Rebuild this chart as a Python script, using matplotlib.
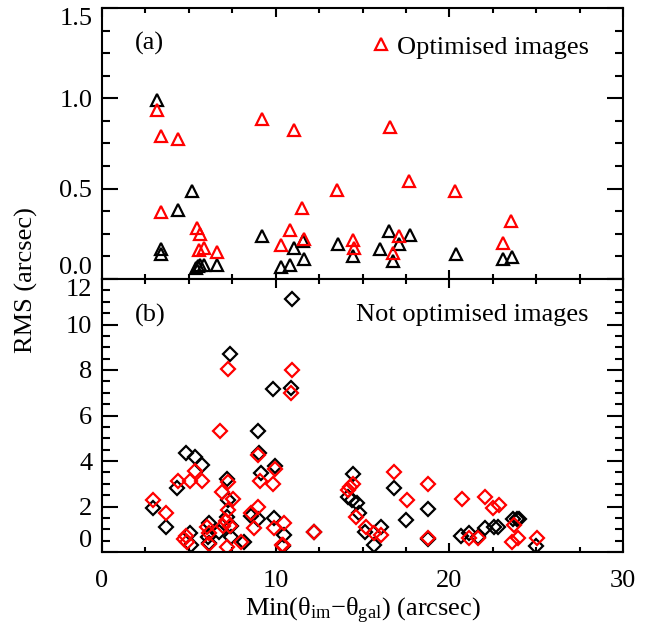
import numpy as np
import matplotlib
matplotlib.use('Agg')
import matplotlib.pyplot as plt

plt.rcParams['font.family'] = ['Liberation Serif', 'DejaVu Serif']
plt.rcParams['mathtext.fontset'] = 'custom'
plt.rcParams['mathtext.rm'] = 'Liberation Serif'
plt.rcParams['mathtext.it'] = 'Liberation Serif'

# panel (a): optimised images
top_black_x = [3.18, 5.19, 4.40, 3.41, 3.41, 5.40, 5.55, 5.65, 5.85, 6.63, 9.2, 10.3, 10.85,
               11.03, 11.56, 11.62, 13.58, 14.44, 16.0, 16.55, 16.74, 17.13, 17.74, 20.39,
               23.07, 23.6]
top_black_y = [0.99, 0.485, 0.38, 0.167, 0.139, 0.06, 0.07, 0.08, 0.075, 0.078, 0.239, 0.067,
               0.078, 0.17, 0.21, 0.109, 0.196, 0.128, 0.165, 0.267, 0.10, 0.193, 0.243, 0.141,
               0.109, 0.122]
top_red_x = [3.18, 3.41, 4.40, 3.41, 5.48, 5.67, 5.56, 5.9, 6.63, 9.2, 11.03, 10.28, 10.85,
             11.5, 11.62, 13.54, 14.44, 14.5, 16.59, 17.7, 20.35, 23.56, 23.11, 17.09, 16.74]
top_red_y = [0.937, 0.789, 0.776, 0.372, 0.28, 0.248, 0.161, 0.17, 0.152, 0.887, 0.826, 0.189,
             0.27, 0.393, 0.22, 0.494, 0.215, 0.174, 0.844, 0.544, 0.485, 0.322, 0.202, 0.239,
             0.146]

# panel (b): not optimised images
bot_black_x = [10.95, 7.38, 9.87, 10.89, 9.01, 4.86, 5.37, 5.77, 9.03, 9.99, 4.33, 7.21, 9.13,
               2.93, 3.66, 7.24, 7.21, 5.04, 5.13, 6.19, 6.09, 6.19, 6.71, 7.44, 7.44, 8.2,
               8.59, 9.01, 9.93, 10.5, 10.44, 14.48, 14.15, 14.4, 14.67, 14.79, 15.17, 16.07,
               15.69, 16.84, 17.51, 18.8, 18.76, 12.23, 20.68, 21.12, 21.64, 22.08, 22.6, 22.8,
               23.65, 23.88, 24.04, 25.0]
bot_black_y = [11.11, 8.69, 7.15, 7.19, 5.33, 4.37, 4.16, 3.82, 4.37, 3.78, 2.83, 3.19, 3.46,
               1.92, 1.08, 2.29, 1.55, 0.82, 0.31, 1.29, 0.67, 0.38, 0.89, 1.14, 0.67, 0.45,
               1.58, 1.44, 1.48, 0.75, 0.26, 3.43, 2.43, 2.3, 2.14, 1.73, 0.89, 1.11, 0.31,
               2.8, 1.41, 1.89, 0.55, 0.89, 0.72, 0.82, 0.67, 1.04, 1.11, 1.11, 1.45, 1.45,
               1.45, 0.26]
bot_red_x = [7.24, 10.95, 10.89, 6.82, 9.01, 5.33, 5.04, 4.37, 5.77, 7.28, 9.11, 9.87, 9.99,
             2.93, 3.69, 6.92, 7.53, 7.28, 8.59, 9.01, 8.78, 9.93, 10.5, 4.7, 4.85, 4.9,
             6.19, 6.05, 6.95, 7.15, 7.35, 6.19, 7.21, 8.01, 10.4, 14.27, 14.48, 14.15,
             14.63, 15.2, 15.69, 16.07, 16.84, 17.55, 18.8, 18.76, 12.23, 10.37, 20.74,
             22.08, 22.5, 22.85, 23.75, 21.16, 21.64, 23.6, 23.94, 25.05]
bot_red_y = [8.03, 8.0, 6.97, 5.3, 4.26, 3.56, 3.13, 3.13, 3.13, 3.09, 3.13, 2.98, 3.63, 2.29,
             1.73, 2.65, 2.32, 1.85, 1.70, 1.96, 1.04, 1.04, 1.26, 0.55, 0.7, 0.45, 0.82,
             1.1, 1.15, 1.36, 1.15, 0.37, 0.23, 0.45, 0.3, 2.87, 3.0, 2.72, 1.55, 1.11, 0.82,
             0.75, 3.5, 2.29, 2.98, 0.6, 0.89, 0.31, 2.32, 2.43, 1.92, 2.07, 1.19, 0.6, 0.6,
             0.45, 0.6, 0.6]

fs = 19
fig = plt.figure(figsize=(6.5, 6.29), dpi=100)
L, R = 102 / 650, 623 / 650
ax1 = fig.add_axes([L, 1 - 279 / 629, R - L, 271 / 629])
ax2 = fig.add_axes([L, 1 - 552 / 629, R - L, 273 / 629])


def style(ax, ymax, ymajor):
    ax.set_xlim(0, 30)
    ax.set_ylim(0, ymax)
    ax.set_xticks(np.arange(0, 31, 10))
    ax.set_xticks(np.arange(0, 30.1, 2.5), minor=True)
    ax.set_yticks(np.arange(0, ymax + 1e-6, ymajor))
    ax.set_yticks(np.arange(0, ymax + 1e-6, ymajor / 4), minor=True)
    ax.tick_params(which='both', direction='in', top=True, right=True, width=1.5,
                   labelsize=fs)
    ax.tick_params(axis='y', which='major', length=11.5, pad=7)
    ax.tick_params(axis='y', which='minor', length=5.8)
    ax.tick_params(axis='x', which='major', length=6.5, pad=13)
    ax.tick_params(axis='x', which='minor', length=3.6)
    for s in ax.spines.values():
        s.set_linewidth(1.5)


style(ax1, 1.5, 0.5)
style(ax2, 12, 2)

ax1.plot(top_black_x, top_black_y, '^', ms=9, mfc='none', mec='black', mew=1.6, ls='none')
ax1.plot(top_red_x, top_red_y, '^', ms=9, mfc='none', mec='red', mew=1.6, ls='none',
         label='Optimised images')
ax2.plot(bot_black_x, bot_black_y, 'D', ms=7, mfc='none', mec='black', mew=1.6, ls='none')
ax2.plot(bot_red_x, bot_red_y, 'D', ms=7, mfc='none', mec='red', mew=1.6, ls='none')

ax1.set_xticklabels([])
ax1.set_yticklabels(['0.0', '0.5', '1.0', '1.5'])
ylab = ax1.get_yticklabels()
ylab[0].set_va('bottom')
ylab[-1].set_va('top')
ax2.set_yticklabels([str(v) for v in range(0, 13, 2)])
ylab = ax2.get_yticklabels()
ylab[0].set_va('bottom')
ylab[-1].set_va('top')

ax1.text(0.063, 0.87, '(a)', transform=ax1.transAxes, fontsize=fs, va='center')
ax2.text(0.063, 0.868, '(b)', transform=ax2.transAxes, fontsize=fs, va='center')
ax2.text(0.933, 0.868, 'Not optimised images', transform=ax2.transAxes, fontsize=fs,
         va='center', ha='right')
ax1.legend(loc='upper right', bbox_to_anchor=(0.935, 0.90), frameon=False, fontsize=fs,
           handlelength=0.6, handletextpad=0.3, borderpad=0, borderaxespad=0,
           numpoints=1, markerscale=0.9)

ax2.set_xlabel(r'Min($\theta_{\rm im}$$-$$\theta_{\rm gal}$) (arcsec)', fontsize=fs, labelpad=3)
fig.text(26 / 650, 1 - 280 / 629, 'RMS (arcsec)', rotation=90, fontsize=fs,
         ha='center', va='center')

fig.savefig('out.png', dpi=100)
